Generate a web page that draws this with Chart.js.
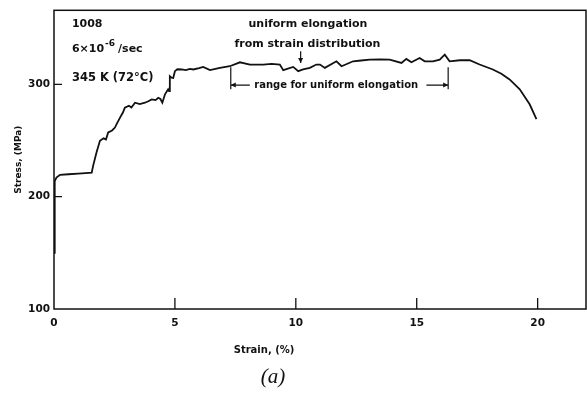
<!DOCTYPE html>
<html>
<head>
<meta charset="utf-8">
<script src="https://cdn.jsdelivr.net/npm/chart.js@4/dist/chart.umd.min.js"></script>
<style>
  html, body { margin: 0; padding: 0; background: #fff; }
  #wrap { width: 587px; height: 397px; }
</style>
</head>
<body>
<div id="wrap"><canvas id="grafico-tensao"></canvas></div>
<script>
// curva tensao x deformacao
const strain = [0, 0.02, 0.04, 0.1, 0.25, 0.6, 1.0, 1.3, 1.56, 1.62, 1.76, 1.9, 2.05, 2.15, 2.24, 2.4, 2.52, 2.6, 2.73, 2.85, 2.93, 3.1, 3.2, 3.35, 3.55, 3.76, 3.9, 4.04, 4.2, 4.31, 4.4, 4.48, 4.59, 4.72, 4.76, 4.79, 4.86, 4.93, 5.0, 5.1, 5.28, 5.45, 5.62, 5.76, 6.0, 6.17, 6.45, 6.86, 7.27, 7.69, 8.1, 8.65, 9.0, 9.34, 9.48, 9.89, 10.1, 10.3, 10.58, 10.85, 11.0, 11.2, 11.68, 11.89, 12.37, 12.7, 13.06, 13.5, 13.88, 14.37, 14.57, 14.78, 15.12, 15.33, 15.67, 15.95, 16.16, 16.36, 16.78, 17.19, 17.6, 18.15, 18.5, 18.84, 19.26, 19.67, 19.95];
const stress = [150, 190, 214, 217, 219.5, 220, 220.5, 221, 221.5, 227.7, 239.5, 249.8, 252, 251, 257.2, 259, 261.6, 265, 270.4, 275, 279.3, 281, 279.5, 283.7, 282.5, 283.7, 285, 286.7, 286, 288.1, 287, 283.7, 291.2, 295.6, 294, 307.3, 306, 305.8, 311.8, 313.5, 313.3, 312.8, 313.8, 313.3, 314.5, 315.6, 312.7, 314.7, 316.2, 319.7, 317.7, 317.7, 318.2, 317.7, 312.7, 315.6, 311.8, 313.3, 314.7, 317.7, 317.7, 314.7, 320.6, 316.2, 320.6, 321.3, 322.1, 322.3, 322.1, 319.1, 322.7, 319.7, 323.5, 320.6, 320.6, 322.1, 326.5, 320.6, 321.5, 321.5, 317.7, 313.3, 309.5, 304.4, 295.6, 282.3, 269.0];
const xTicks = [0, 5, 10, 15, 20];
const yTicks = [100, 200, 300];

const canvas = document.getElementById("grafico-tensao");
const fonteB = "DejaVu Sans";

// moldura, marcas internas e anotacoes
const extras = {
  id: "extras",
  afterDraw(chart) {
    const ctx = chart.ctx, a = chart.chartArea;
    const sx = chart.scales.x, sy = chart.scales.y;
    const px = v => sx.getPixelForValue(v), py = v => sy.getPixelForValue(v);
    ctx.save();
    ctx.strokeStyle = "#111";
    ctx.fillStyle = "#111";
    ctx.lineWidth = 1.5;
    ctx.strokeRect(a.left, a.top, a.right - a.left, a.bottom - a.top);
    ctx.lineWidth = 1.3;
    ctx.beginPath();
    xTicks.slice(1).forEach(v => { ctx.moveTo(px(v), a.bottom); ctx.lineTo(px(v), a.bottom - 11); });
    yTicks.slice(1).forEach(v => { ctx.moveTo(a.left, py(v)); ctx.lineTo(a.left + 8, py(v)); });
    ctx.stroke();

    // textos
    ctx.textBaseline = "middle";
    ctx.font = "bold 11px " + fonteB;
    ctx.textAlign = "left";
    ctx.fillText("1008", px(0.74), py(353.4));
    let x0 = px(0.74), y0 = py(331.2);
    ctx.fillText("6×10", x0, y0);
    let w = ctx.measureText("6×10").width;
    ctx.font = "bold 9px " + fonteB;
    ctx.fillText("-6", x0 + w + 1, y0 - 6);
    let w2 = ctx.measureText("-6").width;
    ctx.font = "bold 11px " + fonteB;
    ctx.fillText("/sec", x0 + w + w2 + 4, y0);
    ctx.font = "bold 11.5px " + fonteB;
    ctx.fillText("345 K (72°C)", px(0.74), py(305.6));

    ctx.textAlign = "center";
    ctx.font = "bold 11px " + fonteB;
    ctx.fillText("uniform elongation", px(10.5), py(353.4));
    ctx.fillText("from strain distribution", px(10.48), py(335.7));
    ctx.font = "bold 10px " + fonteB;
    ctx.fillText("range for uniform elongation", px(11.67), py(299.4));

    // seta vertical
    ctx.lineWidth = 1.2;
    const ax = px(10.2);
    ctx.beginPath();
    ctx.moveTo(ax, py(329.5)); ctx.lineTo(ax, py(319));
    ctx.stroke();
    ctx.beginPath();
    ctx.moveTo(ax - 2.5, py(319) - 5); ctx.lineTo(ax + 2.5, py(319) - 5); ctx.lineTo(ax, py(319)); ctx.closePath();
    ctx.fill();

    // colchete da faixa
    const l = px(7.31), r = px(16.3), hy = py(299.4);
    ctx.beginPath();
    ctx.moveTo(l, py(315.3)); ctx.lineTo(l, py(295.8));
    ctx.moveTo(r, py(315.3)); ctx.lineTo(r, py(295.8));
    ctx.moveTo(l, hy); ctx.lineTo(px(8.1), hy);
    ctx.moveTo(px(15.4), hy); ctx.lineTo(r, hy);
    ctx.stroke();
    ctx.beginPath();
    ctx.moveTo(l, hy); ctx.lineTo(l + 5, hy - 2.5); ctx.lineTo(l + 5, hy + 2.5); ctx.closePath();
    ctx.moveTo(r, hy); ctx.lineTo(r - 5, hy - 2.5); ctx.lineTo(r - 5, hy + 2.5); ctx.closePath();
    ctx.fill();

    // titulo do eixo x e legenda (a)
    ctx.font = "bold 10px " + fonteB;
    ctx.fillText("Strain, (%)", 264, 350);
    ctx.font = "italic 21px 'Liberation Serif'";
    ctx.fillText("(a)", 273, 377);
    ctx.restore();
  }
};

new Chart(canvas, {
  type: "line",
  data: {
    datasets: [{
      data: strain.map((s, i) => ({ x: s, y: stress[i] })),
      borderColor: "#111",
      borderWidth: 1.8,
      pointRadius: 0,
      tension: 0,
      fill: false
    }]
  },
  options: {
    responsive: true,
    maintainAspectRatio: false,
    animation: false,
    layout: { padding: { left: 0, right: 1, top: 9, bottom: 64 } },
    plugins: { legend: { display: false }, tooltip: { enabled: false } },
    scales: {
      x: {
        type: "linear", min: 0, max: 22,
        afterBuildTicks: s => { s.ticks = xTicks.map(v => ({ value: v })); },
        afterFit: s => { s.height = 24; },
        grid: { display: false, drawTicks: false },
        border: { display: false },
        ticks: { color: "#111", padding: 8, maxRotation: 0, font: { family: fonteB, weight: "bold", size: 10.5 } }
      },
      y: {
        type: "linear", min: 100, max: 366,
        afterBuildTicks: s => { s.ticks = yTicks.map(v => ({ value: v })); },
        afterFit: s => { s.width = 54; },
        grid: { display: false, drawTicks: false },
        border: { display: false },
        ticks: { color: "#111", padding: 4, font: { family: fonteB, weight: "bold", size: 10.5 } },
        title: { display: true, text: "Stress, (MPa)", color: "#111", padding: { top: 13, bottom: 0 }, font: { family: fonteB, weight: "bold", size: 9 } }
      }
    }
  },
  plugins: [extras]
});
</script>
</body>
</html>
